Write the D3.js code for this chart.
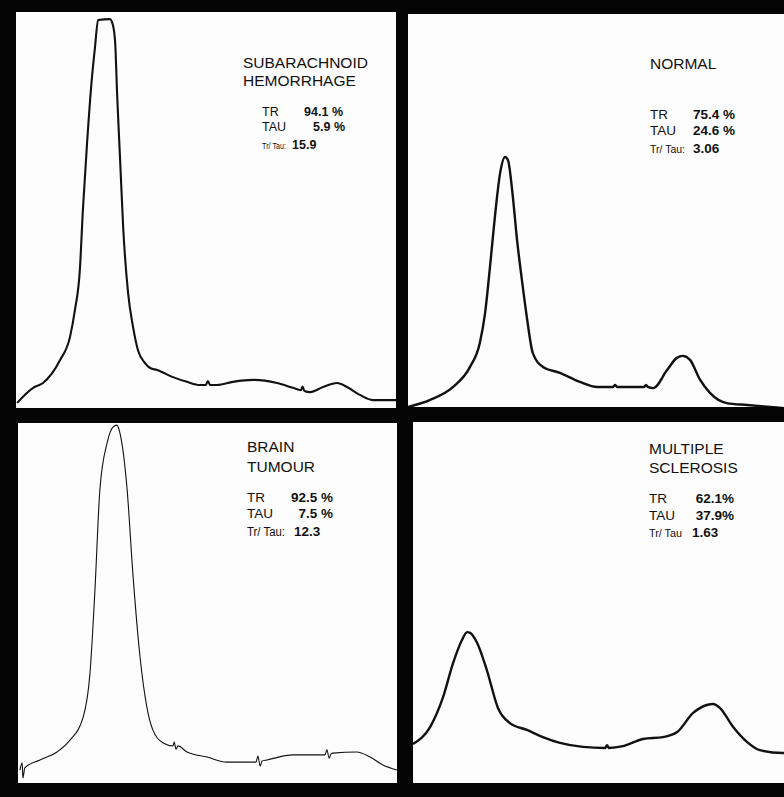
<!DOCTYPE html>
<html>
<head>
<meta charset="utf-8">
<script src="https://cdn.jsdelivr.net/npm/d3@7"></script>
<style>
  html, body { margin: 0; padding: 0; background: #000; }
  svg { display: block; }
  text { font-family: "Liberation Sans", Arial, sans-serif; fill: #111; }
</style>
</head>
<body>
<div id="chart"></div>
<script>
// densitometer scans, x = migration (% of strip), y = absorbance (% of panel height)
var sahX = [0.3, 4.5, 7.1, 11.6, 14.2, 15.5, 16.8, 17.6, 18.7, 20.0, 20.8, 21.6, 24.7, 25.5, 26.1, 26.6, 27.4, 28.2, 29.5, 30.8, 32.1, 33.9, 35.3, 37.1, 41.3, 45.0, 48.4, 49.9, 50.5, 51.1, 52.9, 57.1, 62.4, 68.7, 72.9, 75.0, 75.4, 75.9, 77.4, 80.8, 84.5, 87.1, 90.5, 93.9, 99.2, 100];
var sahY = [1.3, 5.1, 6.3, 12.1, 17.9, 24.7, 34.8, 50.0, 66.9, 83.6, 91.2, 98.0, 98.2, 96.7, 92.2, 79.5, 62.6, 45.7, 29.0, 20.5, 14.6, 11.4, 10.1, 9.6, 7.8, 6.6, 5.8, 5.8, 6.8, 5.8, 5.8, 6.6, 7.1, 6.3, 5.1, 4.5, 5.4, 4.3, 4.0, 5.3, 6.3, 5.3, 3.3, 2.0, 2.0, 2.0];

var normalX = [0, 5.9, 12.0, 16.5, 19.1, 20.5, 21.8, 23.1, 24.5, 25.8, 26.6, 27.7, 29.0, 30.3, 31.6, 33.2, 35.9, 40.4, 45.7, 50.3, 54.5, 55.1, 55.6, 59.8, 62.8, 63.3, 63.8, 65.2, 68.9, 71.5, 73.1, 75.0, 77.7, 80.3, 84.8, 90.2, 96.3, 100];
var normalY = [0, 1.8, 5.1, 10.2, 16.3, 23.9, 35.6, 48.3, 59.5, 63.6, 62.8, 55.2, 42.5, 32.3, 22.9, 13.7, 10.2, 8.7, 6.4, 5.1, 5.1, 5.6, 5.1, 5.1, 5.1, 5.6, 5.1, 4.8, 9.4, 12.5, 13.0, 12.0, 6.9, 3.6, 1.0, 0.5, 0, -0.3];

var tumourX = [0.5, 1.1, 1.3, 1.8, 5.8, 10.3, 13.7, 17.2, 19.0, 20.3, 21.6, 23.5, 25.1, 26.1, 26.9, 28.8, 30.3, 32.2, 34.0, 35.6, 38.3, 40.9, 41.2, 41.7, 42.2, 44.6, 49.9, 55.1, 62.8, 63.3, 63.9, 64.4, 65.7, 72.6, 77.8, 81.0, 81.5, 82.1, 82.6, 83.1, 89.4, 92.9, 96.3, 100];
var tumourY = [3.6, 5.6, 1.4, 4.2, 6.4, 8.6, 11.9, 18.3, 30.6, 53.6, 81.4, 94.4, 98.9, 99.4, 97.2, 81.4, 58.3, 35.0, 21.1, 14.7, 11.1, 10.3, 11.4, 9.4, 10.3, 8.6, 7.2, 5.8, 5.8, 7.5, 4.7, 6.1, 6.4, 7.8, 7.8, 7.8, 9.2, 6.9, 8.1, 8.3, 8.6, 7.2, 5.0, 3.6];

var msX = [0, 4.6, 8.1, 10.8, 13.2, 14.6, 15.4, 17.3, 19.9, 22.9, 26.1, 30.7, 35.0, 39.6, 45.8, 51.8, 52.3, 52.8, 56.6, 62.0, 67.4, 71.2, 75.5, 79.2, 80.9, 82.7, 86.3, 90.0, 93.5, 99.7, 100];
var msY = [10.8, 15.5, 23.8, 33.2, 39.6, 41.8, 41.6, 38.8, 31.3, 20.8, 16.6, 14.7, 12.7, 11.1, 10.0, 9.7, 10.5, 9.7, 10.2, 12.2, 12.7, 14.1, 19.4, 21.6, 21.9, 20.8, 15.5, 11.4, 9.1, 8.3, 8.3];

var titles = [["SUBARACHNOID", "HEMORRHAGE"], ["NORMAL"], ["BRAIN", "TUMOUR"], ["MULTIPLE", "SCLEROSIS"]];
var trValues = ["94.1 %", "75.4 %", "92.5 %", "62.1%"];
var tauValues = ["5.9 %", "24.6 %", "7.5 %", "37.9%"];
var ratioLabels = ["Tr/ Tau:", "Tr/ Tau:", "Tr/ Tau:", "Tr/ Tau"];
var ratioValues = ["15.9", "3.06", "12.3", "1.63"];

var xsAll = [sahX, normalX, tumourX, msX];
var ysAll = [sahY, normalY, tumourY, msY];

// panel boxes and text placement (pixels)
var panels = [
  {x0: 16, x1: 396, y0: 12, y1: 408, sw: 2.1, tx: 243, t1: 68, t2: 86, lx: 262, b1: 116, b2: 131, b3: 149, vr: 343, vr2: 345, rv: 292, rw: 24, fs: 12.5, rfs: 8.5},
  {x0: 408, x1: 784, y0: 14, y1: 407, sw: 2.4, tx: 650, t1: 69, t2: 87, lx: 650, b1: 119, b2: 135, b3: 153, vr: 735, vr2: 735, rv: 693, rw: 35, fs: 13.5, rfs: 11.5},
  {x0: 18, x1: 397, y0: 423, y1: 783, sw: 1.1, tx: 247, t1: 452, t2: 472, lx: 247, b1: 502, b2: 518, b3: 536, vr: 333, vr2: 333, rv: 294, rw: 38, fs: 13.5, rfs: 12.5},
  {x0: 413, x1: 784, y0: 422, y1: 783, sw: 2.4, tx: 649, t1: 454, t2: 473, lx: 649, b1: 503, b2: 520, b3: 537, vr: 734, vr2: 734, rv: 692, rw: 33, fs: 13.5, rfs: 11.5}
];

var svg = d3.select("#chart").append("svg")
  .attr("width", 784)
  .attr("height", 797);

svg.append("rect")
  .attr("width", 784).attr("height", 797)
  .attr("fill", "#050505");

panels.forEach(function(p, i) {
  var g = svg.append("g");

  g.append("clipPath").attr("id", "clip" + i)
    .append("rect")
    .attr("x", p.x0).attr("y", p.y0)
    .attr("width", p.x1 - p.x0).attr("height", p.y1 - p.y0);

  g.append("rect")
    .attr("x", p.x0).attr("y", p.y0)
    .attr("width", p.x1 - p.x0).attr("height", p.y1 - p.y0)
    .attr("fill", "#fdfdfd");

  var x = d3.scaleLinear().domain([0, 100]).range([p.x0, p.x1]);
  var y = d3.scaleLinear().domain([0, 100]).range([p.y1, p.y0]);

  var pts = xsAll[i].map(function(v, k) { return [v, ysAll[i][k]]; });

  var line = d3.line()
    .x(function(d) { return x(d[0]); })
    .y(function(d) { return y(d[1]); })
    .curve(d3.curveMonotoneX);

  g.append("path")
    .attr("clip-path", "url(#clip" + i + ")")
    .attr("d", line(pts))
    .attr("fill", "none")
    .attr("stroke", "#111")
    .attr("stroke-width", p.sw)
    .attr("stroke-linejoin", "round");

  // title
  titles[i].forEach(function(t, k) {
    g.append("text")
      .attr("x", p.tx)
      .attr("y", k == 0 ? p.t1 : p.t2)
      .style("font-size", "15.5px")
      .text(t);
  });

  // TR / TAU block
  g.append("text").attr("x", p.lx).attr("y", p.b1).style("font-size", p.fs + "px").text("TR");
  g.append("text").attr("x", p.lx).attr("y", p.b2).style("font-size", p.fs + "px").text("TAU");
  g.append("text").attr("x", p.vr).attr("y", p.b1).attr("text-anchor", "end")
    .style("font-size", p.fs + "px").style("font-weight", "bold").text(trValues[i]);
  g.append("text").attr("x", p.vr2).attr("y", p.b2).attr("text-anchor", "end")
    .style("font-size", p.fs + "px").style("font-weight", "bold").text(tauValues[i]);

  g.append("text").attr("x", p.lx).attr("y", p.b3)
    .style("font-size", p.rfs + "px")
    .attr("textLength", p.rw).attr("lengthAdjust", "spacingAndGlyphs")
    .text(ratioLabels[i]);
  g.append("text").attr("x", p.rv).attr("y", p.b3)
    .style("font-size", p.fs + "px").style("font-weight", "bold")
    .text(ratioValues[i]);
});
</script>
</body>
</html>
